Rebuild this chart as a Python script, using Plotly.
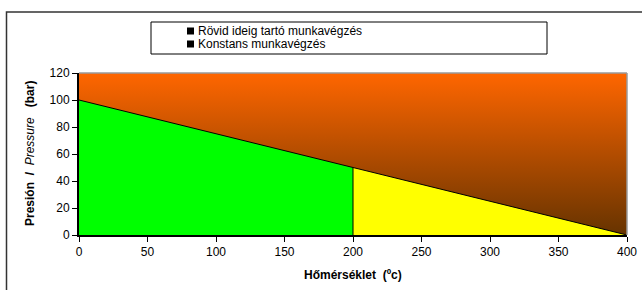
import plotly.graph_objects as go

# ---- data ----
temps = [0, 200, 400]          # Hőmérséklet (ºc)
pressure = [100, 50, 0]        # Presión / Pressure (bar)
y_max = 120
legend_labels = ["Rövid ideig tartó munkavégzés", "Konstans munkavégzés"]
x_ticks = [0, 50, 100, 150, 200, 250, 300, 350, 400]
y_ticks = [0, 20, 40, 60, 80, 100, 120]

FONT = "Arial, 'Liberation Sans', sans-serif"

fig = go.Figure()

# gradient background area
fig.add_trace(go.Scatter(
    x=[temps[0], temps[-1]], y=[y_max, y_max], mode="lines",
    line=dict(width=0), fill="tozeroy",
    fillgradient=dict(type="vertical", colorscale=[[0, "#663300"], [1, "#FF6600"]]),
    showlegend=False, hoverinfo="skip"))

# green (constant) region
fig.add_trace(go.Scatter(
    x=temps[:2], y=pressure[:2], mode="lines",
    line=dict(color="black", width=1), fill="tozeroy", fillcolor="#00FF00",
    showlegend=False))

# yellow (short-term) region
fig.add_trace(go.Scatter(
    x=temps[1:], y=pressure[1:], mode="lines",
    line=dict(color="black", width=1), fill="tozeroy", fillcolor="#FFFF00",
    showlegend=False))

# boundary between regions
fig.add_trace(go.Scatter(
    x=[temps[1], temps[1]], y=[0, pressure[1]], mode="lines",
    line=dict(color="black", width=1), showlegend=False, hoverinfo="skip"))

W, H = 642, 290
PL, PR, PT, PB = 79, 627, 73, 235          # target plot-area pixels
L, R, T, B = PL, W - PR, PT, H - PB
pw, ph = W - L - R, H - T - B

def px(p):
    return (p - PL) / pw

def py(p):
    return 1 - (p - PT) / ph

shapes = [
    # outer chart border
    dict(type="rect", xref="paper", yref="paper", x0=px(6.5), x1=px(660), y0=py(12), y1=py(320),
         line=dict(color="#333333", width=1.5), layer="below"),
    # plot area top/right border (gray)
    dict(type="line", xref="paper", yref="paper", x0=0, x1=1, y0=1, y1=1,
         line=dict(color="#9a9a9a", width=1.5)),
    dict(type="line", xref="paper", yref="paper", x0=1, x1=1, y0=0, y1=1,
         line=dict(color="#9a9a9a", width=1.5)),
    # legend box
    dict(type="rect", xref="paper", yref="paper", x0=px(151), x1=px(547), y0=py(54), y1=py(22),
         line=dict(color="black", width=1), fillcolor="white"),
]
annotations = []
for i, lab in enumerate(legend_labels):
    cy = 31 + 13 * i
    shapes.append(dict(type="rect", xref="paper", yref="paper",
                       x0=px(187), x1=px(194), y0=py(cy + 3.5), y1=py(cy - 3.5),
                       line=dict(width=0), fillcolor="black"))
    annotations.append(dict(text=lab, xref="paper", yref="paper", x=px(196), y=py(cy),
                            xanchor="left", yanchor="middle", showarrow=False,
                            font=dict(family=FONT, size=12, color="black")))

annotations.append(dict(
    text="<b>Presión\u00a0\u00a0/\u00a0\u00a0</b><i>Pressure</i><b>\u00a0\u00a0\u00a0(bar)</b>",
    xref="paper", yref="paper", x=px(30), y=0.5, textangle=-90,
    xanchor="center", yanchor="middle", showarrow=False,
    font=dict(family=FONT, size=12, color="black")))
annotations.append(dict(
    text="<b>Hőmérséklet\u00a0\u00a0(ºc)</b>",
    xref="paper", yref="paper", x=0.5, y=py(275),
    xanchor="center", yanchor="middle", showarrow=False,
    font=dict(family=FONT, size=12, color="black")))

fig.update_layout(
    width=W, height=H,
    margin=dict(l=L, r=R, t=T, b=B, autoexpand=False),
    paper_bgcolor="white", plot_bgcolor="white",
    showlegend=False,
    shapes=shapes, annotations=annotations,
    font=dict(family=FONT, size=12, color="black"),
    xaxis=dict(range=[temps[0], temps[-1]], tickvals=x_ticks, ticks="outside", ticklen=5,
               tickcolor="black", showline=True, linecolor="black", linewidth=2,
               showgrid=False, zeroline=False, fixedrange=True, ticklabeloverflow="allow",
               automargin=False,
               tickfont=dict(family=FONT, size=12, color="black")),
    yaxis=dict(range=[0, y_max], tickvals=y_ticks, ticks="outside", ticklen=5,
               tickcolor="black", showline=True, linecolor="black", linewidth=2,
               showgrid=False, zeroline=False, fixedrange=True, automargin=False,
               tickfont=dict(family=FONT, size=12, color="black")),
)

fig.write_html(
    "out.html",
    config={"displayModeBar": False, "responsive": False},
    post_script=("document.body.style.margin='0';"
                 "document.body.style.overflow='hidden';"
                 "document.documentElement.style.overflow='hidden';"),
)
